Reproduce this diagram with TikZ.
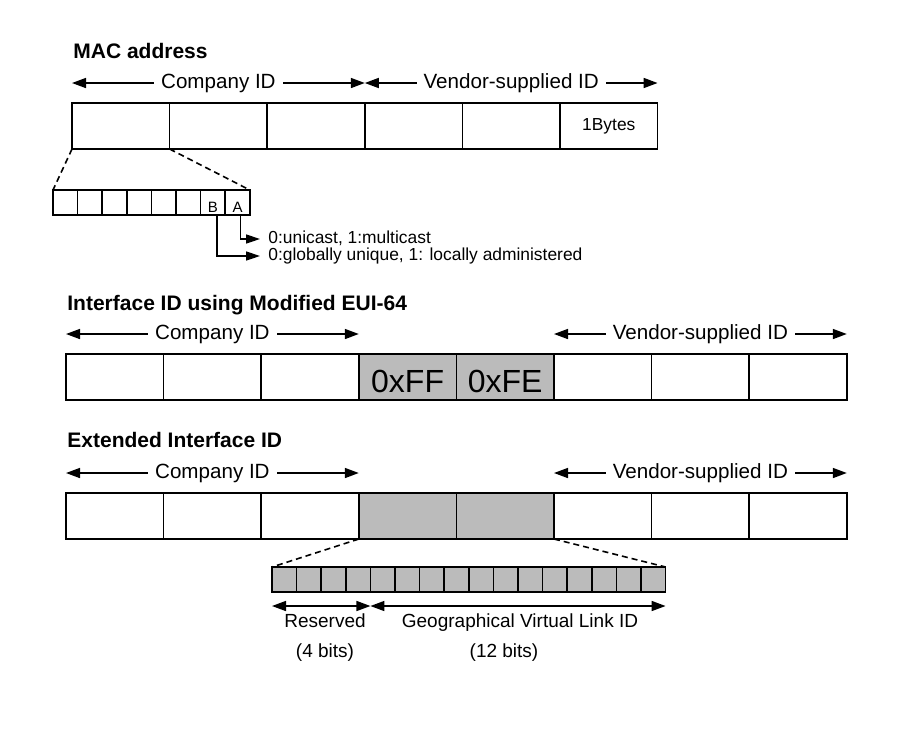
\documentclass[tikz,border=0pt]{standalone}
\usepackage{fontspec}
\setmainfont{Liberation Sans}
\usetikzlibrary{arrows.meta, positioning}

\definecolor{fieldgray}{RGB}{187,187,187}

\begin{document}
\begin{tikzpicture}[
    x=0.5pt, y=-0.5pt, % one unit = one pixel of the page, y downwards
    % Styles
    cell/.style={rectangle, draw, line width=0.8pt, minimum width=48.8pt, minimum height=23pt, inner sep=0pt, outer sep=0pt, fill=white},
    grayed/.style={fill=fieldgray},
    bigtext/.style={font=\fontsize{16}{18}\selectfont, text height=15.5pt, text depth=0pt},
    bit/.style={rectangle, draw, line width=0.8pt, minimum width=12.3pt, minimum height=12.5pt, inner sep=0pt, outer sep=0pt, fill=white, font=\fontsize{7.5}{9}\selectfont, text height=10pt, text depth=0pt},
    heading/.style={font=\bfseries\fontsize{10.5}{12}\selectfont, anchor=base west, inner sep=0pt},
    span/.style={{Triangle[length=7pt, width=5pt]}-{Triangle[length=7pt, width=5pt]}, line width=0.8pt},
    spantext/.style={fill=white, inner xsep=3.5pt, inner ysep=1pt, font=\fontsize{10.3}{12}\selectfont},
    pointer/.style={-{Triangle[length=7pt, width=4.5pt]}, line width=0.8pt},
    note/.style={anchor=west, inner sep=0pt, font=\fontsize{8.7}{10}\selectfont, text height=6.5pt, text depth=1.8pt},
    bitstext/.style={inner sep=0pt, font=\fontsize{9.5}{11}\selectfont, text height=7pt, text depth=2pt},
    zoomline/.style={dash pattern=on 3pt off 2pt, line width=0.8pt}
]
\useasboundingbox (0,0) rectangle (900,741);

% --- MAC address ---
\node[heading] (mac_title) at (73,58) {MAC address};
\node[cell, anchor=north west] (mac1) at (72,103) {};
\foreach \i [count=\j from 2] in {1,...,4}
    \node[cell, right=0pt of mac\i] (mac\j) {};
\node[cell, right=0pt of mac5, font=\fontsize{8.7}{10}\selectfont] (mac6) {1Bytes};

\draw[span] ([yshift=10pt]mac1.north west) -- node[spantext] (mac_company) {Company ID} ([yshift=10pt]mac3.north east);
\draw[span] ([yshift=10pt]mac4.north west) -- node[spantext] (mac_vendor) {Vendor-supplied ID} ([yshift=10pt]mac6.north east);

% first byte, bit by bit
\node[bit, anchor=north west] (mbit1) at (53,190) {};
\foreach \i [count=\j from 2] in {1,...,5}
    \node[bit, right=0pt of mbit\i] (mbit\j) {};
\node[bit, right=0pt of mbit6] (mbit7) {B};
\node[bit, right=0pt of mbit7] (mbit8) {A};

\draw[zoomline] (mac1.south west) -- (mbit1.north west);
\draw[zoomline] (mac1.south east) -- (mbit8.north east);

\node[note] (unicast) at (268,239) {0:unicast, 1:multicast};
\node[note] (globally) at (268,256) {0:globally unique, 1: locally administered};
\draw[pointer] ([xshift=1.5pt]mbit8.south) |- ([xshift=-4pt]unicast.west);
\draw[pointer] ([xshift=2pt]mbit7.south) |- ([xshift=-4pt]globally.west);

% --- Modified EUI-64 ---
\node[heading] (eui_title) at (67,310) {Interface ID using Modified EUI-64};
\node[cell, anchor=north west] (eui1) at (66,354) {};
\node[cell, right=0pt of eui1] (eui2) {};
\node[cell, right=0pt of eui2] (eui3) {};
\node[cell, grayed, bigtext, right=0pt of eui3] (eui4) {0xFF};
\node[cell, grayed, bigtext, right=0pt of eui4] (eui5) {0xFE};
\foreach \i [count=\j from 6] in {5,...,7}
    \node[cell, right=0pt of eui\i] (eui\j) {};

\draw[span] ([yshift=10pt]eui1.north west) -- node[spantext] (eui_company) {Company ID} ([yshift=10pt]eui3.north east);
\draw[span] ([yshift=10pt]eui6.north west) -- node[spantext] (eui_vendor) {Vendor-supplied ID} ([yshift=10pt]eui8.north east);

% --- Extended Interface ID ---
\node[heading] (ext_title) at (67,447) {Extended Interface ID};
\node[cell, anchor=north west] (ext1) at (66,493) {};
\node[cell, right=0pt of ext1] (ext2) {};
\node[cell, right=0pt of ext2] (ext3) {};
\node[cell, grayed, right=0pt of ext3] (ext4) {};
\node[cell, grayed, right=0pt of ext4] (ext5) {};
\foreach \i [count=\j from 6] in {5,...,7}
    \node[cell, right=0pt of ext\i] (ext\j) {};

\draw[span] ([yshift=10pt]ext1.north west) -- node[spantext] (ext_company) {Company ID} ([yshift=10pt]ext3.north east);
\draw[span] ([yshift=10pt]ext6.north west) -- node[spantext] (ext_vendor) {Vendor-supplied ID} ([yshift=10pt]ext8.north east);

% middle two bytes, bit by bit
\node[bit, grayed, anchor=north west] (xbit1) at (272,567) {};
\foreach \i [count=\j from 2] in {1,...,15}
    \node[bit, grayed, right=0pt of xbit\i] (xbit\j) {};

\draw[zoomline] (ext4.south west) -- (xbit1.north west);
\draw[zoomline] (ext5.south east) -- (xbit16.north east);

\draw[span] ([yshift=-7pt]xbit1.south west) -- ([yshift=-7pt]xbit4.south east);
\draw[span] ([yshift=-7pt]xbit5.south west) -- ([yshift=-7pt]xbit16.south east);

\node[bitstext] (reserved) at (325,622) {Reserved};
\node[bitstext] (reserved_size) at (325,652) {(4 bits)};
\node[bitstext] (gvlid) at (520,622) {Geographical Virtual Link ID};
\node[bitstext] (gvlid_size) at (504,652) {(12 bits)};

\end{tikzpicture}
\end{document}
